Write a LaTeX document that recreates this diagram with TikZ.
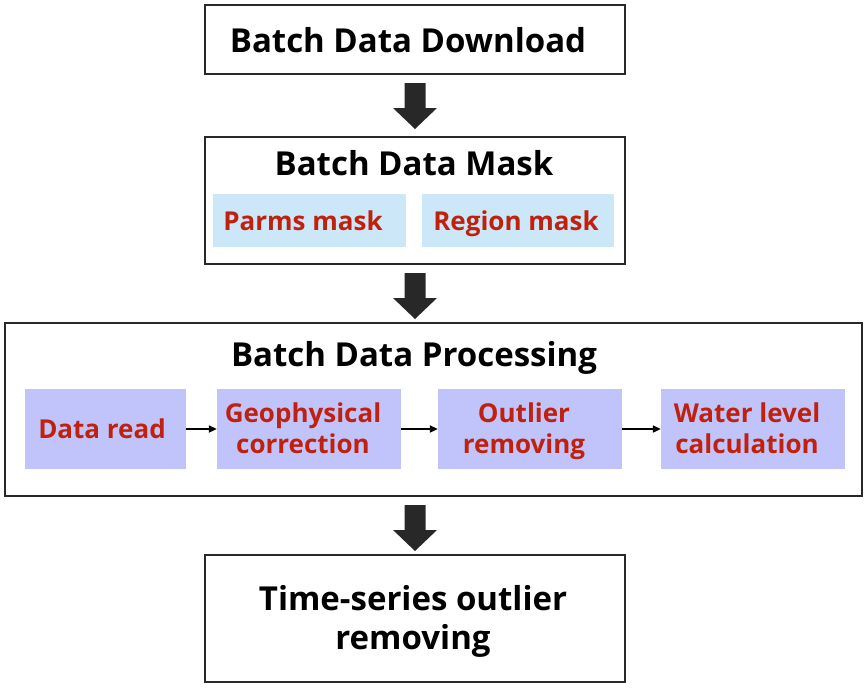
\documentclass[tikz,border=0pt]{standalone}
\usepackage{fontspec}
\setmainfont{Open Sans}
\usetikzlibrary{arrows.meta,calc}
\definecolor{redtxt}{RGB}{192,33,15}
\definecolor{lblue}{RGB}{204,232,248}
\definecolor{lav}{RGB}{192,196,250}
\definecolor{edge}{RGB}{40,40,40}
\begin{document}
\begin{tikzpicture}[x=1pt,y=-1pt,
  frame/.style={draw=edge,line width=2pt,fill=white},
  sub/.style={inner sep=0pt,text=redtxt,font=\bfseries\fontsize{26}{31}\selectfont,align=center},
  ttl/.style={font=\bfseries\fontsize{33}{39}\selectfont,align=center},
  sarr/.style={-{Triangle[length=8pt,width=7pt]},line width=2pt,black}]
\useasboundingbox (0,0) rectangle (868,688);
% boxes
\node[frame,minimum width=420pt,minimum height=69pt,inner sep=0pt] (b1) at (415,39.5) {};
\node[ttl] (t1) at (408,40) {Batch Data Download};
\node[frame,minimum width=420pt,minimum height=127pt,inner sep=0pt] (b2) at (415,200.5) {};
\node[ttl] (t2) at (414,163) {Batch Data Mask};
\node[fill=lblue,minimum width=193pt,minimum height=53pt,inner sep=0pt] (m1) at (309.5,220.5) {};
\node[sub] (m1t) at (303,221) {Parms mask};
\node[fill=lblue,minimum width=192pt,minimum height=53pt,inner sep=0pt] (m2) at (518,220.5) {};
\node[sub,text depth=0pt] (m2t) at (516,221) {Region mask};
\node[frame,minimum width=857pt,minimum height=173pt,inner sep=0pt] (b3) at (433.5,409.5) {};
\node[ttl,text depth=0pt] (t3) at (414,354) {Batch Data Processing};
\node[fill=lav,minimum width=161pt,minimum height=80pt,inner sep=0pt] (p1) at (105,429) {};
\node[sub] (p1t) at (102,429) {Data read};
\node[fill=lav,minimum width=184pt,minimum height=80pt,inner sep=0pt] (p2) at (309,429) {};
\node[sub] (p2t) at (303,428.5) {Geophysical\\correction};
\node[fill=lav,minimum width=184pt,minimum height=80pt,inner sep=0pt] (p3) at (530,429) {};
\node[sub] (p3t) at (524,431.5) {Outlier\\removing};
\node[fill=lav,minimum width=184pt,minimum height=80pt,inner sep=0pt] (p4) at (753,429) {};
\node[sub] (p4t) at (747,428.5) {Water level\\calculation};
\node[frame,minimum width=420pt,minimum height=127pt,inner sep=0pt] (b4) at (415,618) {};
\node[ttl] (t4) at (413,621) {Time-series outlier\\removing};
% small arrows
\draw[sarr] (p1.east) -- (p2.west);
\draw[sarr] (p2.east) -- (p3.west);
\draw[sarr] (p3.east) -- (p4.west);
% block arrows
\foreach \a/\n in {b1/1,b2/2,b3/3}{
  \coordinate (s\n) at ($(\a.south)+(0,8)$);
  \coordinate (s\n) at (415,0 |- s\n);
  \fill[edge] ($(s\n)+(-10.5,0)$) -- ($(s\n)+(10.5,0)$) -- ($(s\n)+(10.5,25)$) -- ($(s\n)+(22,25)$) -- ($(s\n)+(0,46)$) -- ($(s\n)+(-22,25)$) -- ($(s\n)+(-10.5,25)$) -- cycle;
}
\end{tikzpicture}
\end{document}
